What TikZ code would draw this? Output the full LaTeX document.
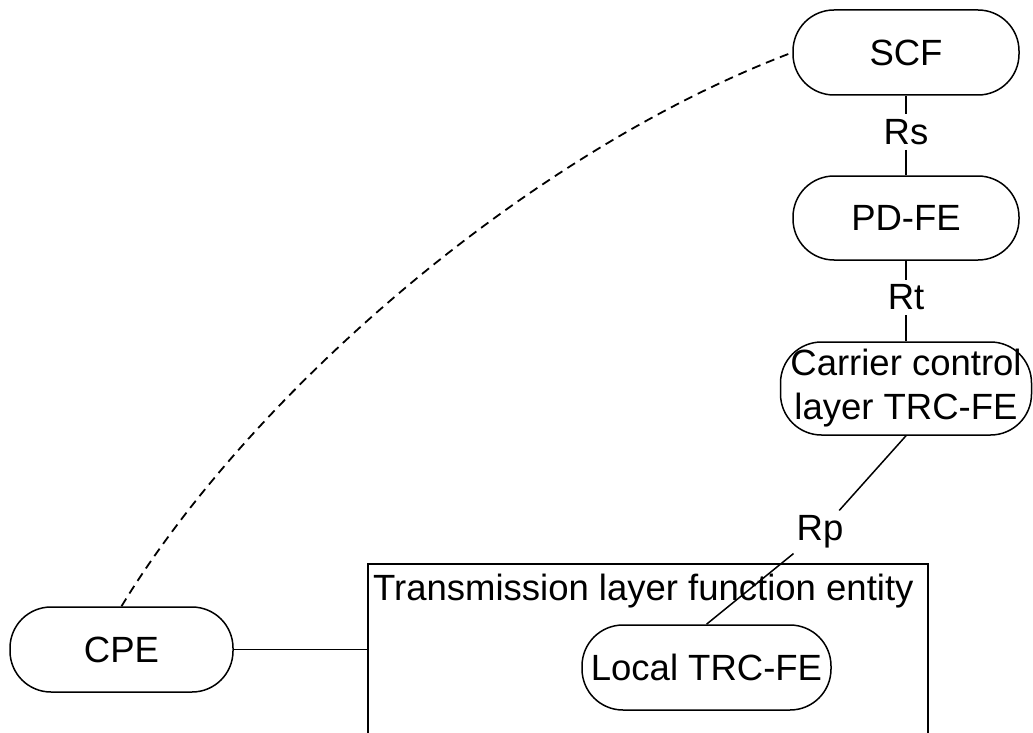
\documentclass[tikz,border=0pt]{standalone}
\usepackage{fontspec}
\setmainfont{Liberation Sans}
\begin{document}
\begin{tikzpicture}[x=1pt,y=-1pt,
  every node/.style={font=\fontsize{36.5}{45}\selectfont},
  pill/.style={draw, line width=1.5pt, rounded corners=41pt, inner sep=0pt, align=center},
  ifl/.style={inner xsep=3pt, inner ysep=5pt},
  conn/.style={line width=1.5pt},
  dconn/.style={line width=1.8pt, dash pattern=on 9pt off 6pt}]
\useasboundingbox (0,0) rectangle (1033,733);
% nodes
\node[pill, minimum width=226pt, minimum height=85pt] (scf) at (906,52.5) {SCF};
\node[pill, minimum width=226pt, minimum height=84pt] (pdfe) at (906,218) {PD-FE};
\node[pill, minimum width=251pt, minimum height=93pt] (ccl) at (906,388.5) {\raisebox{2pt}{\begin{tabular}{@{}c@{}}Carrier control\\[-0.2pt]layer TRC-FE\end{tabular}}};
\node[pill, minimum width=223pt, minimum height=85pt] (cpe) at (121.5,649.5) {CPE};
\node[pill, minimum width=249pt, minimum height=85pt] (local) at (706.5,667.5) {Local TRC-FE};
\node[ifl] (rs) at (906,132) {Rs};
\node[ifl] (rt) at (906,297.5) {Rt};
\node[ifl] (rp) at (820,532) {Rp};
% transmission layer box
\coordinate (tbl) at (368,733);
\coordinate (ttl) at (368,564);
\coordinate (ttr) at (928,564);
\coordinate (tbr) at (928,733);
\coordinate (tin) at (368,649.5);
\draw[line width=1.9pt] (tbl) -- (ttl) -- (ttr) -- (tbr);
\node[anchor=base west, inner sep=0pt] (tlabel) at (373,600) {Transmission layer function entity};
% connectors
\draw[conn] (scf.south) -- (rs.north);
\draw[conn] (rs.south) -- (pdfe.north);
\draw[conn] (pdfe.south) -- (rt.north);
\draw[conn] (rt.south) -- (ccl.north);
\draw[conn] (ccl.south) -- (rp);
\draw[conn] (rp) -- (local.north);
\draw[conn] (cpe.east) -- (tin);
\draw[dconn] (cpe.north) .. controls (252,392) and (529,152) .. (scf.west);
\end{tikzpicture}
\end{document}
